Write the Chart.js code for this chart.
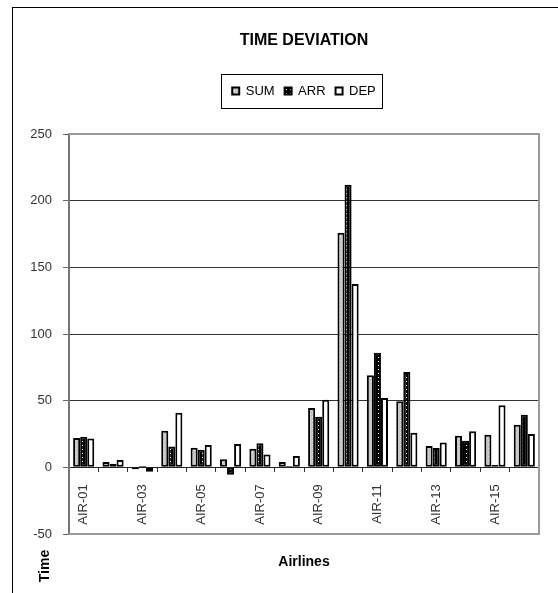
<!DOCTYPE html>
<html>
<head>
<meta charset="utf-8">
<script src="https://cdn.jsdelivr.net/npm/chart.js@4.4.0/dist/chart.umd.min.js"></script>
<style>
  html, body { margin: 0; padding: 0; background: #fff; }
  #wrap { width: 558px; height: 593px; }
</style>
</head>
<body>
<div id="wrap"><canvas id="c" width="558" height="593"></canvas></div>
<script>
// Airline categories and the three deviation series
const categories = ['AIR-01','AIR-02','AIR-03','AIR-04','AIR-05','AIR-06','AIR-07','AIR-08',
                    'AIR-09','AIR-10','AIR-11','AIR-12','AIR-13','AIR-14','AIR-15','AIR-16'];
const sumValues = [22, 4, -1.5, 27.5, 14.7, 6, 14, 4, 44.5, 176, 69, 49.5, 16, 23.7, 24.5, 32];
const arrValues = [23, 2.7, 1, 15.7, 13.2, -5.5, 18, 1, 38, 212, 86, 71.5, 14.5, 20, 1.7, 39.5];
const depValues = [21.7, 5.5, -3.3, 41, 16.7, 17.5, 9.7, 8.5, 50.7, 137.5, 52, 26, 18.7, 27, 46.5, 25];
const seriesNames = ['SUM', 'ARR', 'DEP'];
const yMin = -50, yMax = 250, yStep = 50;
const gridValues = [50, 100, 150, 200];

const FONT = "'Liberation Sans', Arial, Helvetica, sans-serif";
Chart.defaults.font.family = FONT;

// small repeating fills for the bars
function makePattern(bg, dot, cells) {
  const t = document.createElement('canvas');
  t.width = 4; t.height = 4;
  const g = t.getContext('2d');
  g.fillStyle = bg; g.fillRect(0, 0, 4, 4);
  g.fillStyle = dot;
  cells.forEach(([x, y]) => g.fillRect(x, y, 1, 1));
  return g.createPattern(t, 'repeat');
}
const sumFill = makePattern('#c4c4c4', '#e6e6e6', [[0, 0], [2, 2]]);
const arrFill = makePattern('#000000', '#ffffff', [[2, 1]]);
const depFill = '#ffffff';

// white page with the outer chart frame
const pageFrame = {
  id: 'pageFrame',
  beforeDraw(chart) {
    const c = chart.ctx;
    c.save();
    c.fillStyle = '#fff';
    c.fillRect(0, 0, chart.width, chart.height);
    c.strokeStyle = '#000';
    c.lineWidth = 1;
    c.strokeRect(12.5, 7.5, 800, 800);
    c.restore();
  }
};

// leave room under the legend row
const legendGap = {
  id: 'legendGap',
  beforeLayout(chart) {
    const lg = chart.legend;
    if (lg && !lg.__gap) {
      const fit = lg.fit.bind(lg);
      lg.fit = function () { fit(); this.height += 26.5; };
      lg.__gap = true;
    }
  }
};

// gray border round the plot area
const plotFrame = {
  id: 'plotFrame',
  beforeDatasetsDraw(chart) {
    const {left, right, top, bottom} = chart.chartArea;
    const c = chart.ctx;
    c.save();
    c.strokeStyle = '#9a9a9a';
    c.lineWidth = 2;
    c.beginPath();
    c.moveTo(left, top);
    c.lineTo(right, top);
    c.lineTo(right, bottom);
    c.lineTo(left, bottom);
    c.stroke();
    c.restore();
  }
};

// box round the legend and the vertical axis title
const extras = {
  id: 'extras',
  afterDraw(chart) {
    const c = chart.ctx;
    const boxes = chart.legend && chart.legend.legendHitBoxes;
    c.save();
    if (boxes && boxes.length) {
      const l = Math.min(...boxes.map(b => b.left)) - 11;
      const r = Math.max(...boxes.map(b => b.left + b.width)) + 6;
      const cy = boxes[0].top + boxes[0].height / 2;
      c.strokeStyle = '#000';
      c.lineWidth = 1;
      c.strokeRect(Math.round(l) + 0.5, Math.round(cy - 17) + 0.5, Math.round(r - l), 34);
    }
    c.translate(45, 566);
    c.rotate(-Math.PI / 2);
    c.fillStyle = '#000';
    c.font = 'bold 14px ' + FONT;
    c.textAlign = 'center';
    c.textBaseline = 'middle';
    c.fillText('Time', 0, 0);
    c.restore();
  }
};

const barCommon = {
  borderColor: '#000',
  borderWidth: 2,
  borderSkipped: false,
  categoryPercentage: 0.72,
  barPercentage: 1.0,
  xAxisID: 'x',
  yAxisID: 'y'
};

new Chart(document.getElementById('c'), {
  type: 'bar',
  data: {
    labels: categories,
    datasets: [
      Object.assign({label: seriesNames[0], data: sumValues, backgroundColor: sumFill}, barCommon),
      Object.assign({label: seriesNames[1], data: arrValues, backgroundColor: arrFill}, barCommon),
      Object.assign({label: seriesNames[2], data: depValues, backgroundColor: depFill}, barCommon)
    ]
  },
  plugins: [pageFrame, legendGap, plotFrame, extras],
  options: {
    responsive: false,
    animation: false,
    devicePixelRatio: 1,
    layout: { padding: { left: 0, right: 19, top: 0, bottom: 0 } },
    plugins: {
      title: {
        display: true,
        text: 'TIME DEVIATION',
        fullSize: false,
        color: '#000',
        font: { size: 16, weight: 'bold' },
        padding: { top: 31, bottom: 24.3 }
      },
      legend: {
        display: true,
        fullSize: false,
        labels: { boxWidth: 7, boxHeight: 7, padding: 10, color: '#000', font: { size: 13 } }
      },
      tooltip: { enabled: false }
    },
    scales: {
      x: {
        type: 'category',
        position: { y: 0 },
        offset: true,
        grid: { display: true, drawOnChartArea: false, drawTicks: true, tickLength: 4, tickColor: '#333', offset: true },
        border: { display: true, color: '#222', width: 1 },
        ticks: {
          autoSkip: false,
          minRotation: 90,
          maxRotation: 90,
          padding: 13,
          color: '#333',
          font: { size: 13 },
          callback: function (val, idx) { return idx % 2 === 0 ? this.getLabelForValue(val) : ''; }
        }
      },
      xt: {
        type: 'category',
        position: 'bottom',
        display: true,
        grid: { display: false, drawTicks: false },
        border: { display: false },
        ticks: { display: false },
        title: {
          display: true,
          text: 'Airlines',
          color: '#000',
          font: { size: 14, weight: 'bold' },
          padding: { top: 19.6, bottom: 22.6 }
        }
      },
      y: {
        min: yMin,
        max: yMax,
        ticks: { stepSize: yStep, padding: 11, color: '#333', font: { size: 13 } },
        grid: {
          color: (c) => (c.tick && gridValues.includes(c.tick.value)) ? '#333' : 'rgba(0,0,0,0)',
          tickColor: '#666',
          tickLength: 6,
          lineWidth: 1
        },
        border: { display: true, color: '#777', width: 2 },
        afterFit(scale) { scale.width = 69; }
      }
    }
  }
});
</script>
</body>
</html>
